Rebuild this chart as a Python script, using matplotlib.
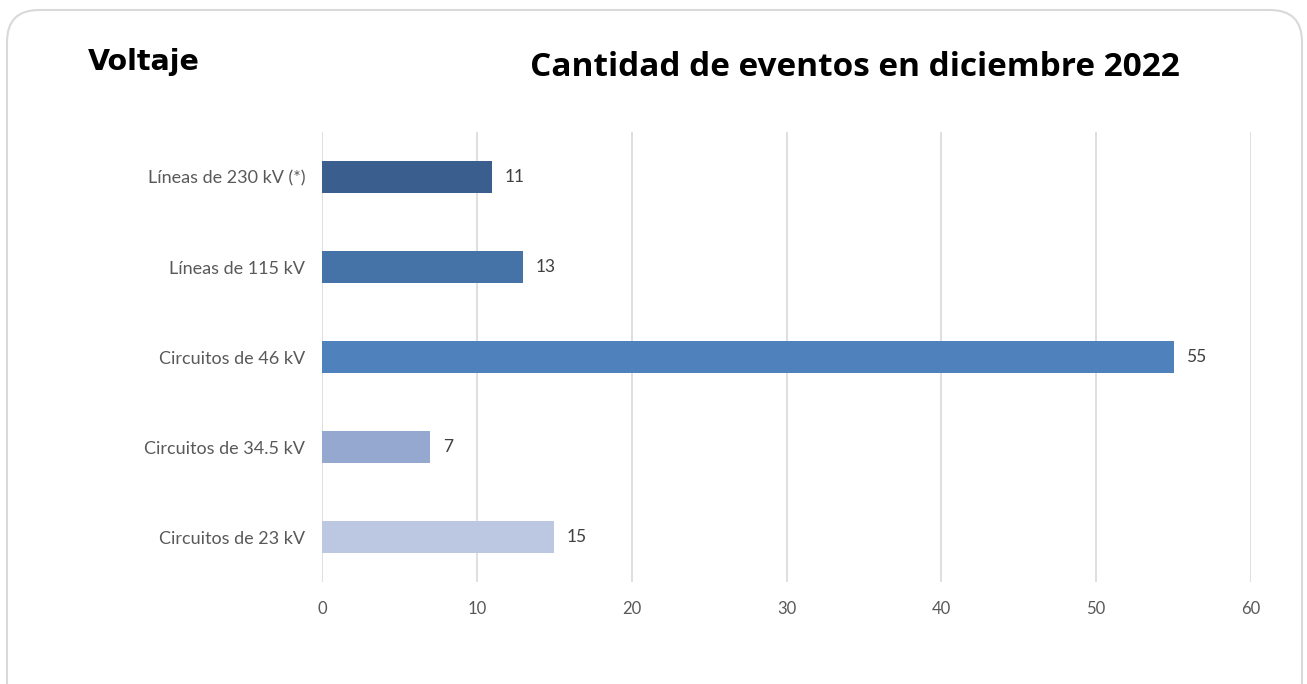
import matplotlib
matplotlib.use("Agg")
from matplotlib import pyplot as plt
from matplotlib.patches import FancyBboxPatch

# Data
categorias = ["Líneas de 230 kV (*)", "Líneas de 115 kV", "Circuitos de 46 kV",
              "Circuitos de 34.5 kV", "Circuitos de 23 kV"]
eventos = [11, 13, 55, 7, 15]
colores = ["#3A5F8E", "#4572A7", "#4F81BD", "#95A9D0", "#BCC8E1"]
xticks = [0, 10, 20, 30, 40, 50, 60]

plt.rcParams['font.family'] = ['Lato', 'DejaVu Sans']

fig = plt.figure(figsize=(13.07, 6.84), dpi=100)

# rounded border of the chart area (inch coordinates)
borde = FancyBboxPatch((0.07, -0.3), 12.95, 7.04,
                       boxstyle="round,pad=0,rounding_size=0.32",
                       transform=fig.dpi_scale_trans, facecolor="none",
                       edgecolor="#D9D9D9", linewidth=1.5, zorder=-1)
fig.patches.append(borde)

ax = fig.add_axes([322 / 1307, 102 / 684, 929 / 1307, 450 / 684])
ax.set_facecolor("none")

y = list(range(len(categorias)))
bars = ax.barh(y, eventos, height=0.355, color=colores, zorder=3)
ax.set_ylim(len(categorias) - 0.5, -0.5)
ax.set_xlim(0, 60)
ax.set_xticks(xticks)
ax.set_yticks(y)
ax.set_yticklabels(categorias)

ax.grid(axis="x", color="#D9D9D9", linewidth=1.2, zorder=0)
for s in ax.spines.values():
    s.set_visible(False)
ax.tick_params(axis="both", length=0, labelsize=12, labelcolor="#595959")
ax.tick_params(axis="y", pad=12, labelsize=13)
ax.tick_params(axis="x", pad=14)

for b, v in zip(bars, eventos):
    ax.text(v + 0.8, b.get_y() + b.get_height() / 2, str(v), va="center",
            ha="left", fontsize=12.5, color="#404040")

fig.text(88 / 1307, 1 - 62 / 684, "Voltaje", fontsize=20.5, fontweight="bold",
         family=["DejaVu Sans"], va="center", ha="left", color="black")
fig.text(855 / 1307, 1 - 68 / 684, "Cantidad de eventos en diciembre 2022",
         fontsize=24, fontweight="bold", family=["Open Sans", "DejaVu Sans"],
         va="center", ha="center", color="black")

fig.savefig("out.png", dpi=100)
